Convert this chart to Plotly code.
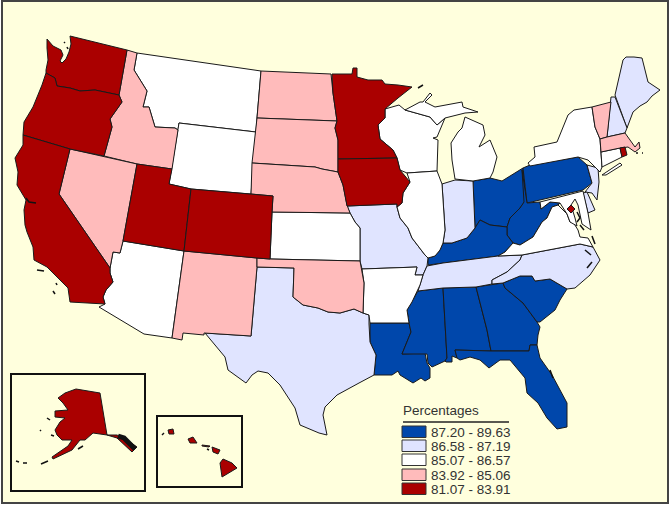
import plotly.graph_objects as go

# Percent classes, top to bottom as in the legend box
class_labels = ["87.20 - 89.63", "86.58 - 87.19", "85.07 - 86.57", "83.92 - 85.06", "81.07 - 83.91"]
class_colors = ["#0047AB", "#E0E4FF", "#FFFFFF", "#FFBBBB", "#AA0000"]

class_0 = ["OH", "PA", "WV", "KY", "LA", "MS", "AL", "GA", "SC", "FL"]
class_1 = ["ME", "NH", "NJ", "DE", "IN", "MO", "TX", "TN", "NC"]
class_2 = ["MT", "WY", "AZ", "KS", "AR", "WI", "MIU", "MIL", "IL", "NY", "LI", "CT", "VA", "MD"]
class_3 = ["ID", "NV", "NM", "ND", "SD", "NE", "OK", "VT", "MA"]
class_4 = ["WA", "OR", "CA", "UT", "CO", "MN", "IA", "RI", "DC", "AK", "HI1", "HI2", "HI3", "HI4", "HI5"]

# State outlines (map units, y down)
WA = [(47,39),(53,46),(61,50),(63,55),(60,61),(62,63),(66,59),(69,52),(71,44),(70,36),(127,50),(119,95),(95,90),(80,91),(70,88),(57,86),(55,78),(50,75),(46,73),(46,70),(48,60),(47,48)]
OR = [(46,73),(50,75),(55,78),(57,86),(70,88),(80,91),(95,90),(119,95),(122,102),(110,119),(112,127),(104,156),(70,149),(23,135),(24,122),(33,107),(42,85)]
CA = [(23,135),(70,149),(59,194),(110,268),(110,273),(113,282),(106,290),(103,297),(105,304),(70,302),(68,288),(58,278),(47,267),(34,260),(33,247),(27,232),(25,225),(24,210),(26,200),(17,185),(18,172),(15,158),(23,145)]
NV = [(70,149),(137,164),(123,241),(120,253),(113,252),(110,268),(59,194)]
ID = [(127,50),(137,53),(134,70),(147,91),(143,107),(149,107),(155,127),(175,128),(178,130),(172,169),(137,164),(104,156),(112,127),(110,119),(122,102),(119,95)]
MT = [(137,53),(261,71),(257,118),(256,132),(179,123),(178,130),(175,128),(155,127),(149,107),(143,107),(147,91),(134,70)]
WY = [(179,123),(256,132),(251,194),(191,189),(169,184)]
UT = [(137,164),(172,169),(169,184),(191,189),(184,251),(123,241)]
CO = [(191,189),(251,194),(273,196),(272,212),(270,259),(257,258),(184,251)]
AZ = [(123,241),(184,251),(172,338),(144,334),(99,307),(105,304),(103,297),(106,290),(113,282),(110,273),(110,268),(113,252),(120,253)]
NM = [(184,251),(257,258),(257,267),(251,336),(204,333),(204,335),(183,333),(182,340),(172,338)]
ND = [(261,71),(331,74),(333,93),(335,107),(337,121),(257,118)]
SD = [(257,118),(337,121),(335,128),(338,140),(338,159),(338,172),(322,169),(315,167),(252,163)]
NE = [(252,163),(315,167),(322,169),(338,172),(343,185),(347,205),(350,213),(272,212),(273,196),(251,194)]
KS = [(272,212),(350,213),(355,222),(360,228),(360,261),(270,259)]
OK = [(257,258),(270,259),(360,261),(364,283),(363,313),(354,309),(340,313),(328,312),(318,308),(303,305),(293,297),(294,268),(257,267)]
TX = [(257,267),(294,268),(293,297),(303,305),(318,308),(328,312),(340,313),(354,309),(363,313),(369,315),(369,324),(370,342),(376,355),(374,375),(359,383),(350,388),(337,395),(325,407),(323,415),(327,435),(319,433),(300,425),(295,408),(280,385),(268,373),(258,371),(252,375),(246,383),(228,370),(225,357),(205,333),(251,336)]
MN = [(332,74),(352,74),(353,68),(357,68),(357,77),(368,80),(382,80),(385,84),(398,85),(412,87),(398,98),(385,109),(385,118),(378,125),(380,139),(393,150),(397,158),(338,159),(338,140),(335,128),(337,121),(335,107),(333,93)]
IA = [(338,159),(397,158),(400,170),(410,182),(403,193),(402,203),(397,207),(397,204),(347,206),(343,185),(338,172)]
MO = [(347,206),(397,204),(397,207),(400,218),(408,228),(412,238),(425,255),(428,258),(427,266),(423,275),(415,275),(417,267),(362,269),(360,261),(360,228),(355,222),(350,213)]
AR = [(362,269),(417,267),(415,275),(423,275),(420,285),(417,292),(412,302),(407,310),(409,323),(370,323),(369,315),(363,313),(364,283)]
LA = [(370,323),(409,323),(411,332),(402,354),(425,353),(427,363),(430,368),(430,378),(425,381),(421,378),(413,383),(408,380),(400,375),(398,371),(392,375),(382,375),(374,375),(376,355),(370,342)]
WI = [(385,109),(399,105),(405,110),(430,117),(437,125),(445,118),(437,137),(433,138),(438,140),(437,160),(437,171),(407,173),(400,170),(397,158),(393,150),(380,139),(378,125),(385,118)]
MIU = [(405,110),(420,102),(423,102),(430,93),(432,95),(425,102),(435,107),(462,102),(463,107),(478,112),(465,113),(445,118),(437,125),(430,117)]
MIL = [(465,117),(483,125),(485,135),(479,147),(490,140),(497,157),(493,172),(490,178),(473,181),(455,179),(452,160),(451,143),(458,132),(462,128)]
IL = [(407,173),(437,171),(442,184),(445,230),(443,243),(440,250),(435,256),(428,258),(425,255),(412,238),(408,228),(400,218),(397,207),(402,203),(403,193),(410,182)]
IN = [(442,184),(455,180),(473,181),(475,228),(467,238),(452,243),(443,243),(445,230)]
OH = [(473,181),(490,178),(502,181),(523,168),(526,200),(520,208),(510,218),(507,227),(490,225),(480,220),(475,228)]
KY = [(428,265),(428,258),(435,256),(440,250),(443,243),(452,243),(467,238),(475,228),(480,220),(490,225),(507,227),(507,235),(513,243),(505,252),(498,256),(443,263)]
TN = [(427,266),(443,263),(498,256),(522,255),(520,260),(507,272),(492,280),(492,284),(476,287),(443,288),(418,291),(420,285),(423,275)]
MS = [(418,291),(443,288),(447,358),(445,361),(432,367),(428,363),(427,354),(402,354),(411,332),(409,323),(407,310),(412,302)]
AL = [(443,288),(476,287),(487,330),(491,351),(455,350),(457,358),(452,356),(452,362),(446,362),(445,361),(447,358)]
GA = [(476,287),(503,283),(505,288),(523,303),(537,322),(540,327),(538,335),(537,345),(530,345),(529,351),(491,351),(487,330)]
FL = [(455,350),(491,351),(529,351),(530,345),(537,345),(540,358),(552,375),(567,403),(567,427),(557,429),(547,418),(538,403),(527,393),(525,378),(510,360),(500,360),(489,368),(480,360),(470,357),(460,360),(457,358)]
SC = [(503,283),(520,276),(532,276),(535,281),(550,279),(567,289),(560,300),(555,310),(540,322),(537,322),(523,303),(505,288)]
NC = [(522,255),(580,244),(593,247),(600,260),(590,275),(575,288),(567,289),(550,279),(535,281),(532,276),(520,276),(503,283),(492,284),(492,280),(507,272),(520,260)]
VA = [(498,256),(505,252),(513,243),(520,245),(533,237),(542,222),(547,218),(552,207),(558,205),(567,214),(570,222),(573,222),(578,230),(580,237),(588,238),(593,247),(580,244),(522,255)]
WV = [(522,170),(526,200),(527,203),(540,202),(541,209),(550,202),(560,203),(558,205),(552,207),(547,218),(542,222),(533,237),(520,245),(513,243),(507,235),(507,227),(510,218),(520,208),(524,202)]
PA = [(523,168),(530,165),(578,157),(587,165),(592,183),(583,190),(527,203)]
MD = [(540,202),(583,191),(588,213),(591,230),(582,224),(578,205),(575,199),(571,205),(575,218),(577,226),(570,222),(567,214),(560,203),(550,202),(541,209)]
DE = [(583,193),(587,192),(595,210),(588,213)]
NJ = [(587,165),(598,168),(599,182),(597,200),(592,193),(585,192),(592,183)]
NY = [(530,166),(528,163),(535,157),(534,147),(557,142),(563,127),(568,115),(574,110),(592,107),(595,127),(600,139),(602,167),(600,172),(588,160),(578,157)]
LI = [(602,175),(620,163),(622,165),(606,175)]
CT = [(601,152),(620,148),(622,157),(602,167)]
RI = [(620,148),(625,147),(627,155),(622,157)]
MA = [(600,139),(607,137),(625,133),(632,142),(635,147),(639,142),(640,148),(635,152),(628,147),(620,148),(601,152)]
VT = [(592,107),(611,102),(610,110),(607,137),(600,139),(595,127)]
NH = [(611,97),(615,97),(627,128),(625,133),(607,137),(610,110)]
ME = [(615,95),(623,60),(626,57),(634,57),(642,58),(648,82),(660,90),(652,96),(647,102),(640,106),(633,112),(631,118),(627,128)]
DC = [(571,205),(575,209),(571,213),(567,209)]
AK = [(76,389),(100,393),(107,435),(117,435),(127,440),(137,447),(132,452),(117,438),(107,435),(93,433),(85,440),(80,440),(72,450),(53,459),(52,457),(68,446),(72,440),(62,440),(57,435),(55,430),(60,422),(65,418),(55,417),(55,411),(68,410),(63,403),(58,398),(65,393)]
HI1 = [(220,463),(223,459),(232,463),(237,468),(222,477)]
HI2 = [(212,447),(220,450),(218,454),(213,452)]
HI3 = [(188,439),(193,437),(197,443),(190,443)]
HI4 = [(168,430),(173,429),(174,434),(169,434)]
HI5 = [(202,445),(210,446),(209,447),(202,446)]

outlines = {"WA": WA, "OR": OR, "CA": CA, "NV": NV, "ID": ID, "MT": MT, "WY": WY, "UT": UT, "CO": CO, "AZ": AZ,
            "NM": NM, "ND": ND, "SD": SD, "NE": NE, "KS": KS, "OK": OK, "TX": TX, "MN": MN, "IA": IA, "MO": MO,
            "AR": AR, "LA": LA, "WI": WI, "MIU": MIU, "MIL": MIL, "IL": IL, "IN": IN, "OH": OH, "KY": KY, "TN": TN,
            "MS": MS, "AL": AL, "GA": GA, "FL": FL, "SC": SC, "NC": NC, "VA": VA, "WV": WV, "PA": PA, "MD": MD,
            "DE": DE, "NJ": NJ, "NY": NY, "LI": LI, "CT": CT, "RI": RI, "MA": MA, "VT": VT, "NH": NH, "ME": ME,
            "DC": DC, "AK": AK, "HI1": HI1, "HI2": HI2, "HI3": HI3, "HI4": HI4, "HI5": HI5}

# Small islands and crowded coast, just dark specks on the map
speck_lines = [
    [(47,418),(50,420)], [(40,430),(41,431)], [(51,435),(54,436)], [(78,449),(83,446)],
    [(41,464),(48,461)], [(16,461),(19,462)], [(23,463),(27,463)],
    [(162,435),(164,433)], [(207,449),(209,450)],
    [(418,88),(423,85)], [(636,153),(638,153)], [(642,153),(643,153)],
    [(26,198),(29,202),(36,203)], [(37,270),(44,271)], [(56,283),(57,285)], [(53,291),(55,294)],
    [(64,42),(65,43)], [(67,47),(68,49)], [(585,250),(591,255)], [(580,225),(584,230)],
    [(577,212),(580,218),(577,222)], [(592,262),(587,268)], [(592,236),(595,244)], [(550,370),(553,378)],
]
# Alaska panhandle islands run together into a black clump
panhandle = [(118,436),(124,438),(130,444),(135,449)]

fig = go.Figure()

all_classes = [class_0, class_1, class_2, class_3, class_4]
for names, color in zip(all_classes, class_colors):
    for name in names:
        pts = outlines[name] + [outlines[name][0]]
        fig.add_trace(go.Scatter(x=[p[0] for p in pts], y=[p[1] for p in pts], mode="lines", fill="toself",
                                 fillcolor=color, line=dict(color="#1a1a1a", width=1), hoverinfo="skip", showlegend=False))

for seg in speck_lines:
    fig.add_trace(go.Scatter(x=[p[0] for p in seg], y=[p[1] for p in seg], mode="lines",
                             line=dict(color="#111111", width=1.5), hoverinfo="skip", showlegend=False))
fig.add_trace(go.Scatter(x=[p[0] for p in panhandle], y=[p[1] for p in panhandle], mode="lines",
                         line=dict(color="#111111", width=5), hoverinfo="skip", showlegend=False))

# frame, inset boxes, legend box
shapes = [
    dict(type="rect", x0=2, y0=1, x1=668, y1=503, line=dict(color="#444444", width=2), fillcolor="#FFFFDD", layer="below"),
    dict(type="rect", x0=11, y0=374, x1=145, y1=491, line=dict(color="#111111", width=2)),
    dict(type="rect", x0=157, y0=416, x1=242, y1=487, line=dict(color="#111111", width=2)),
    dict(type="line", x0=403, y0=422, x1=509, y1=422, line=dict(color="#222222", width=1.5)),
]
annotations = [dict(x=401, y=410, text="Percentages", showarrow=False, xanchor="left",
                    font=dict(family="Liberation Sans", size=13.5, color="#333333"))]
swatch_tops = [426, 440, 454, 469, 483]
for top, color, label in zip(swatch_tops, class_colors, class_labels):
    shapes.append(dict(type="rect", x0=402, y0=top, x1=426, y1=top + 11.5, fillcolor=color,
                       line=dict(color="#333333", width=1)))
    annotations.append(dict(x=429, y=top + 6, text=label, showarrow=False, xanchor="left",
                            font=dict(family="Liberation Sans", size=13.5, color="#333333")))

fig.update_layout(width=672, height=508, autosize=False, margin=dict(l=0, r=0, t=0, b=0),
                  paper_bgcolor="white", plot_bgcolor="white", shapes=shapes, annotations=annotations,
                  xaxis=dict(range=[0, 672], visible=False, fixedrange=True),
                  yaxis=dict(range=[508, 0], visible=False, fixedrange=True))
# page margin would push the map off by 8px
fig.write_html("out.html", config=dict(displayModeBar=False),
               post_script="document.body.style.margin='0';")
